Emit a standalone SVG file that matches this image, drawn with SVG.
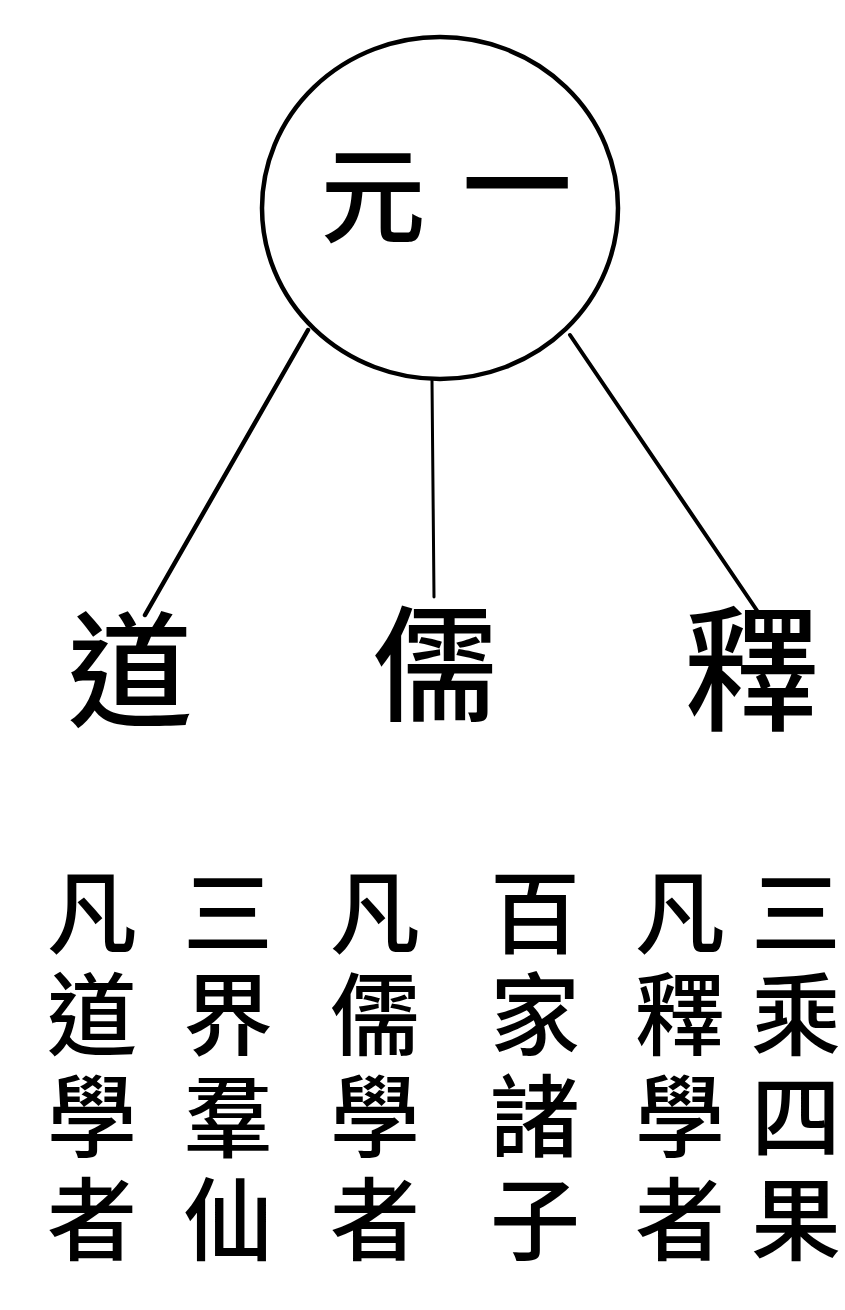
<svg xmlns="http://www.w3.org/2000/svg" width="845" height="1310" viewBox="0 0 845 1310">
<style>
text{font-family:"Noto Sans CJK TC","Noto Sans CJK SC",serif;font-weight:500;fill:#000;text-anchor:middle}
.col{font-size:90px}
.top{font-size:125px}
.edge{stroke:#000;fill:none;stroke-linecap:round}
</style>
<rect width="845" height="1310" fill="#fff"/>
<g id="connectors">
<line class="edge" x1="308" y1="330" x2="145" y2="615" stroke-width="4.5"/>
<line class="edge" x1="432" y1="380" x2="434" y2="597" stroke-width="3"/>
<line class="edge" x1="570" y1="335" x2="758" y2="612" stroke-width="4"/>
</g>
<g id="yuanyi">
<ellipse cx="440" cy="208" rx="178" ry="171" fill="#fff" stroke="#000" stroke-width="4.5"/>
<text x="373" y="234" style="font-size:105px">元</text>
<text x="517" y="226" style="font-size:110px">一</text>
</g>
<g id="dao"><text class="top" x="130" y="717">道</text></g>
<g id="ru"><text class="top" x="435" y="711">儒</text></g>
<g id="shi"><text class="top" x="752" y="720" style="font-size:135px">釋</text></g>
<g id="col1">
<text class="col" x="92" y="946">凡</text><text class="col" x="92" y="1048">道</text><text class="col" x="92" y="1150">學</text><text class="col" x="92" y="1253">者</text>
</g>
<g id="col2">
<text class="col" x="228" y="946">三</text><text class="col" x="228" y="1048">界</text><text class="col" x="228" y="1150">羣</text><text class="col" x="228" y="1253">仙</text>
</g>
<g id="col3">
<text class="col" x="375" y="946">凡</text><text class="col" x="375" y="1048">儒</text><text class="col" x="375" y="1150">學</text><text class="col" x="375" y="1253">者</text>
</g>
<g id="col4">
<text class="col" x="535" y="946">百</text><text class="col" x="535" y="1048">家</text><text class="col" x="535" y="1150">諸</text><text class="col" x="535" y="1253">子</text>
</g>
<g id="col5">
<text class="col" x="680" y="946">凡</text><text class="col" x="680" y="1048">釋</text><text class="col" x="680" y="1150">學</text><text class="col" x="680" y="1253">者</text>
</g>
<g id="col6">
<text class="col" x="796" y="946">三</text><text class="col" x="796" y="1048">乘</text><text class="col" x="796" y="1150">四</text><text class="col" x="796" y="1253">果</text>
</g>
</svg>
